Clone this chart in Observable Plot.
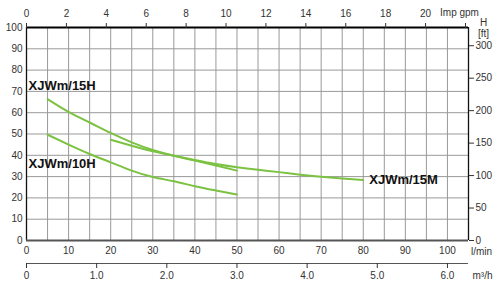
<!DOCTYPE html>
<html><head><meta charset="utf-8">
<script src="https://cdn.jsdelivr.net/npm/d3@7"></script>
<script src="https://cdn.jsdelivr.net/npm/@observablehq/plot@0.6"></script>
<style>
body{margin:0;background:#fff}
</style>
</head><body><div id="chart"></div>
<script>
// Series (flow in l/min, head in m)
const seriesNames = ["XJWm/15H", "XJWm/15M", "XJWm/10H"];
const flow15H = [5, 10, 15, 20, 25, 30, 35, 40, 45, 50];
const head15H = [66.4, 60.4, 55.4, 50.5, 46.1, 42.5, 39.8, 37.5, 35.2, 32.8];
const flow15M = [20, 25, 30, 35, 40, 45, 50, 55, 60, 65, 70, 75, 80];
const head15M = [47.3, 44.5, 41.9, 39.8, 37.8, 35.9, 34.4, 33.2, 32.1, 30.9, 29.9, 29.1, 28.4];
const flow10H = [5, 10, 15, 20, 25, 30, 35, 40, 45, 50];
const head10H = [49.7, 45.0, 40.6, 36.7, 32.8, 29.8, 27.8, 25.5, 23.5, 21.6];

// Axis ticks
const headTicksM = [0, 10, 20, 30, 40, 50, 60, 70, 80, 90, 100];
const flowTicksLpm = [0, 10, 20, 30, 40, 50, 60, 70, 80, 90, 100];
const flowGridLpm = [0, 5, 10, 15, 20, 25, 30, 35, 40, 45, 50, 55, 60, 65, 70, 75, 80, 85, 90, 95, 100, 105];
const flowTicksM3h = [0, 1, 2, 3, 4, 5, 6];
const flowTicksGpm = [0, 2, 4, 6, 8, 10, 12, 14, 16, 18, 20, 22];
const headTicksFt = [0, 50, 100, 150, 200, 250, 300];
const flowDomain = [0, 105];
const headDomain = [0, 100];

const LPM_PER_M3H = 1000 / 60;
const M_PER_FT = 0.3048;
const LPM_PER_GPM = 4.74; // as drawn on the reference's top scale

const curves = [
  ...flow15H.map((f, i) => ({series: seriesNames[0], flow: f, head: head15H[i]})),
  ...flow15M.map((f, i) => ({series: seriesNames[1], flow: f, head: head15M[i]})),
  ...flow10H.map((f, i) => ({series: seriesNames[2], flow: f, head: head10H[i]}))
];

const green = "#7cc242";
const tickColor = "#333";
const labelStyle = {textAnchor: "start", lineAnchor: "middle", fontWeight: "bold", fontSize: 13, fill: "#111"};
const unitStyle = {textAnchor: "middle", lineAnchor: "middle", fill: tickColor};

const chart = Plot.plot({
  width: 500,
  height: 288,
  marginLeft: 26,
  marginRight: 32,
  marginTop: 27,
  marginBottom: 48,
  style: {fontFamily: "'Liberation Sans', Arial, sans-serif", fontSize: "10px", color: tickColor, background: "#fff"},
  x: {domain: flowDomain, axis: null},
  y: {domain: headDomain, axis: null},
  marks: [
    Plot.gridX(flowGridLpm, {stroke: "#999", strokeOpacity: 1, strokeWidth: 1}),
    Plot.gridY(headTicksM, {stroke: "#999", strokeOpacity: 1, strokeWidth: 1}),
    Plot.ruleX([flowDomain[0], flowDomain[1]], {stroke: "#111", strokeWidth: 1.3}),
    Plot.ruleY([headDomain[0]], {stroke: "#555", strokeWidth: 2}),
    Plot.ruleY([headDomain[1]], {stroke: "#000", strokeWidth: 2}),
    Plot.line(curves, {x: "flow", y: "head", z: "series", stroke: green, strokeWidth: 2, curve: "natural"}),
    // series labels, anchored to each curve's end point
    Plot.text([{t: seriesNames[0], flow: flow15H[0], head: head15H[0]}], {x: "flow", y: "head", text: "t", dx: -19, dy: -13, ...labelStyle}),
    Plot.text([{t: seriesNames[1], flow: flow15M[flow15M.length - 1], head: head15M[head15M.length - 1]}], {x: "flow", y: "head", text: "t", dx: 6, dy: 0, ...labelStyle}),
    Plot.text([{t: seriesNames[2], flow: flow10H[0], head: head10H[0]}], {x: "flow", y: "head", text: "t", dx: -19, dy: 29, ...labelStyle}),
    // left axis (m)
    Plot.axisY(headTicksM, {anchor: "left", tickSize: 0, tickPadding: 4, label: null}),
    // right axis (ft)
    Plot.axisY(headTicksFt.map(f => f * M_PER_FT), {anchor: "right", tickSize: 5, tickPadding: 2, label: null, tickFormat: d => String(Math.round(d / M_PER_FT))}),
    // bottom axis (l/min)
    Plot.axisX(flowTicksLpm, {anchor: "bottom", tickSize: 0, tickPadding: 6, label: null}),
    // second bottom axis (m3/h)
    Plot.ruleY([headDomain[0]], {dy: 23, stroke: "#555", strokeWidth: 1}),
    Plot.axisX(flowTicksM3h.map(v => v * LPM_PER_M3H), {anchor: "bottom", dy: 23, tickSize: 5, tickPadding: 3, label: null, tickFormat: d => { const v = Math.round(d / LPM_PER_M3H); return v === 0 ? "0" : v.toFixed(1); }}),
    // top axis (Imp gpm)
    Plot.axisX(flowTicksGpm.map(g => g * LPM_PER_GPM), {anchor: "top", tickSize: 5, tickPadding: 6, label: null, tickFormat: d => { const g = Math.round(d / LPM_PER_GPM); return g === 22 ? "" : String(g); }}),
    // unit labels
    Plot.text(["Imp gpm"], {frameAnchor: "top-right", dx: -9, dy: -15, ...unitStyle}),
    Plot.text(["H"], {frameAnchor: "top-right", dx: 15, dy: -5, ...unitStyle}),
    Plot.text(["[ft]"], {frameAnchor: "top-right", dx: 15, dy: 6, ...unitStyle}),
    Plot.text(["l/min"], {frameAnchor: "bottom-right", dx: 13, dy: 11, ...unitStyle}),
    Plot.text(["m³/h"], {frameAnchor: "bottom-right", dx: 14, dy: 35, ...unitStyle})
  ]
});
document.getElementById("chart").appendChild(chart);
</script>
</body></html>
